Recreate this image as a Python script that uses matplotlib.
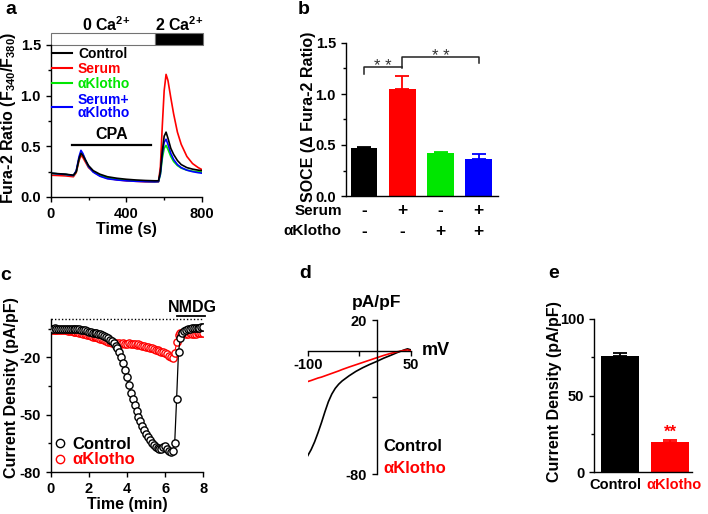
import matplotlib
matplotlib.use('Agg')
import matplotlib.pyplot as plt
from matplotlib.patches import Rectangle
from matplotlib.lines import Line2D

plt.rcParams['font.family'] = ['Liberation Sans', 'DejaVu Sans']
plt.rcParams['font.weight'] = 'bold'
plt.rcParams['axes.labelweight'] = 'bold'
plt.rcParams['axes.unicode_minus'] = False
plt.rcParams['mathtext.fontset'] = 'custom'
plt.rcParams['mathtext.rm'] = 'Liberation Sans:bold'
plt.rcParams['mathtext.it'] = 'Liberation Sans:bold'
plt.rcParams['mathtext.bf'] = 'Liberation Sans:bold'
plt.rcParams['mathtext.default'] = 'rm'
plt.rcParams['axes.linewidth'] = 1.0
for ax_name in ['xtick', 'ytick']:
    plt.rcParams[ax_name + '.major.width'] = 1.0
    plt.rcParams[ax_name + '.minor.width'] = 1.0
    plt.rcParams[ax_name + '.major.size'] = 3.5
    plt.rcParams[ax_name + '.minor.size'] = 2.5
    plt.rcParams[ax_name + '.labelsize'] = 10.5

# ---- a: Fura-2 ratio traces
t_fura = [0, 40, 80, 120, 135, 150, 160, 170, 185, 200, 225, 260, 300, 350, 400, 450,
          500, 550, 570, 580, 590, 600, 610, 620, 635, 650, 670, 690, 720, 750, 780, 800]
fura_control = [0.235, 0.230, 0.225, 0.215, 0.25, 0.38, 0.43, 0.41, 0.36, 0.31, 0.26, 0.225,
                0.20, 0.185, 0.175, 0.168, 0.163, 0.160, 0.160, 0.25, 0.45, 0.60, 0.64, 0.58,
                0.48, 0.42, 0.36, 0.32, 0.29, 0.275, 0.265, 0.26]
fura_serum = [0.215, 0.212, 0.208, 0.200, 0.24, 0.36, 0.41, 0.39, 0.34, 0.29, 0.25, 0.21,
              0.185, 0.17, 0.16, 0.155, 0.150, 0.148, 0.150, 0.30, 0.70, 1.05, 1.21, 1.15,
              0.98, 0.82, 0.64, 0.52, 0.40, 0.33, 0.29, 0.27]
fura_klotho = [0.235, 0.228, 0.222, 0.212, 0.25, 0.38, 0.44, 0.42, 0.36, 0.30, 0.25, 0.215,
               0.19, 0.175, 0.165, 0.16, 0.155, 0.152, 0.153, 0.22, 0.38, 0.48, 0.51, 0.47,
               0.40, 0.35, 0.31, 0.285, 0.265, 0.255, 0.25, 0.245]
fura_both = [0.235, 0.228, 0.222, 0.212, 0.26, 0.40, 0.46, 0.43, 0.36, 0.30, 0.245, 0.205,
             0.18, 0.168, 0.16, 0.155, 0.152, 0.150, 0.152, 0.23, 0.42, 0.54, 0.57, 0.52,
             0.43, 0.37, 0.32, 0.29, 0.265, 0.25, 0.24, 0.235]
fura_names = ['Control', 'Serum', 'αKlotho', 'Serum+\nαKlotho']
group_colors = ['black', 'red', '#00e600', 'blue']
ca_start = [0, 550]
ca_end = [550, 805]
ca_labels = ['0 Ca$^{2{+}}$', '2 Ca$^{2{+}}$']
cpa_start, cpa_end = 110, 530

# ---- b: SOCE bars
soce_mean = [0.47, 1.05, 0.42, 0.36]
soce_err = [0.01, 0.125, 0.01, 0.05]
serum_row = ['-', '+', '-', '+']
klotho_row = ['-', '-', '+', '+']

# ---- c: current density time course (every 0.1 min)
t_cur = [i / 10 for i in range(81)]
cur_control = [-5.0, -5.1, -4.9, -5.0, -5.2, -5.0, -5.1, -5.0, -5.2, -5.1,
               -5.0, -5.2, -5.1, -5.3, -5.2, -5.4, -5.6, -5.8, -6.0, -6.3,
               -6.6, -6.9, -7.1, -7.3, -7.5, -7.8, -8.1, -8.5, -9.0, -9.5,
               -10.0, -10.8, -11.7, -12.8, -14.0, -15.4, -17.5, -20.0, -23.0, -26.5,
               -30.5, -34.5, -38.5, -42.0, -45.0, -48.0, -51.0, -53.5, -56.0, -58.0,
               -60.0, -61.8, -63.3, -64.6, -65.8, -66.7, -67.5, -68.0, -68.2, -67.0,
               -66.5, -67.8, -69.0, -69.5, -69.0, -65.0, -42.0, -17.0, -10.0, -7.5,
               -6.2, -5.6, -5.3, -5.0, -4.8, -4.7, -4.6, -4.5, -4.5, -4.4, -4.4]
cur_klotho = [-5.5, -5.6, -5.5, -5.7, -5.6, -5.8, -5.7, -5.9, -6.0, -6.2,
              -6.3, -6.5, -6.6, -6.8, -7.0, -7.3, -7.5, -7.8, -8.0, -8.3,
              -8.6, -8.9, -9.2, -9.4, -9.6, -9.9, -10.2, -10.6, -11.0, -11.4,
              -11.8, -12.1, -12.4, -12.6, -12.8, -12.9, -12.8, -13.0, -12.7, -12.9,
              -13.0, -12.8, -13.1, -13.0, -13.2, -13.4, -13.3, -13.6, -13.9, -14.2,
              -14.5, -14.8, -15.0, -15.3, -15.6, -16.0, -16.3, -16.6, -17.0, -17.4,
              -17.8, -18.4, -19.2, -20.0, -20.3, -18.0, -12.0, -8.5, -7.5, -7.2,
              -7.3, -7.6, -7.8, -7.5, -7.7, -7.9, -7.6, -7.4, -7.5, -7.3, -7.2]
nmdg_start, nmdg_end = 6.6, 8.1

# ---- d: I-V curves
iv_mv = [-100, -95, -90, -85, -80, -75, -70, -65, -60, -55, -50, -40, -30, -20, -10,
         0, 10, 20, 30, 40, 45, 50]
iv_control = [-68, -64, -59, -53, -46.5, -39.5, -33, -28, -24.3, -21.6, -19.5, -16.2,
              -13.3, -10.9, -8.8, -6.9, -4.8, -3.0, -1.1, 0.6, 1.3, 0.6]
iv_klotho = [-19.9, -19.2, -18.4, -17.6, -17.0, -16.2, -15.4, -14.6, -13.8, -13.0, -12.1,
             -10.5, -9.0, -7.5, -6.0, -4.5, -3.0, -1.7, -0.6, 0.3, 0.6, 0.0]

# ---- e: current density bars
cd_names = ['Control', 'αKlotho']
cd_mean = [76, 19.5]
cd_err = [1.5, 1.5]
cd_colors = ['black', 'red']

W, H = 708, 514
fig = plt.figure(figsize=(W / 100, H / 100), dpi=100)


def rect(left, top, right, bottom):
    return [left / W, 1 - bottom / H, (right - left) / W, (bottom - top) / H]


def clean(ax):
    ax.spines['top'].set_visible(False)
    ax.spines['right'].set_visible(False)


# ================= a
axa = fig.add_axes(rect(50.7, 45, 202.0, 197))
clean(axa)
for y, c in zip([fura_serum, fura_klotho, fura_both, fura_control],
                [group_colors[1], group_colors[2], group_colors[3], group_colors[0]]):
    axa.plot(t_fura, y, color=c, lw=1.2)
handles = [Line2D([], [], color=c, lw=1.5) for c in group_colors]
leg = axa.legend(handles, fura_names, loc='upper left', bbox_to_anchor=(0.01, 0.99),
                 frameon=False, fontsize=10, handlelength=1.4, handletextpad=0.45,
                 labelspacing=0.1, borderaxespad=0, borderpad=0)
for txt, c in zip(leg.get_texts(), group_colors):
    txt.set_color(c)
    txt.set_linespacing(0.95)
for s, e, lab in zip(ca_start, ca_end, ca_labels):
    fc = 'white' if lab.startswith('0') else 'black'
    axa.add_patch(Rectangle((s, 1.5), e - s, 0.118, facecolor=fc, edgecolor='0.45',
                            lw=0.8, clip_on=False))
    axa.text((s + e) / 2 + (20 if fc == 'white' else 0), 1.635, lab, ha='center',
             va='baseline', fontsize=11.5)
axa.plot([cpa_start, cpa_end], [0.51, 0.51], color='black', lw=1.6)
axa.text((cpa_start + cpa_end) / 2, 0.545, 'CPA', ha='center', va='bottom', fontsize=11.5)
axa.set_xlim(0, 800)
axa.set_ylim(0, 1.5)
axa.set_xticks([0, 400, 800])
axa.set_xticks([200, 600], minor=True)
axa.set_yticks([0, 0.5, 1.0, 1.5])
axa.set_yticks([0.25, 0.75, 1.25], minor=True)
axa.set_yticklabels(['0.0', '0.5', '1.0', '1.5'])
axa.set_xlabel('Time (s)', fontsize=11.5, labelpad=1)
fig.text(8.5 / W, 1 - 118 / H, 'Fura-2 Ratio (F$_{340}$/F$_{380}$)', rotation=90,
         ha='center', va='center', fontsize=11.5)

# ================= b
axb = fig.add_axes(rect(345.7, 43, 498, 196))
clean(axb)
xb = list(range(len(soce_mean)))
axb.bar(xb, soce_mean, width=0.7, color=group_colors, zorder=2)
for x, m, e, c in zip(xb, soce_mean, soce_err, group_colors):
    axb.errorbar([x], [m], yerr=[[0], [e]], fmt='none', ecolor=c, capsize=5,
                 elinewidth=1.3, capthick=1.3, zorder=1)
axb.set_xlim(-0.48, 3.5)
axb.set_ylim(0, 1.5)
axb.set_xticks([])
axb.set_yticks([0, 0.5, 1.0, 1.5])
axb.set_yticks([0.25, 0.75, 1.25], minor=True)
axb.set_yticklabels(['0.0', '0.5', '1.0', '1.5'])
tr = axb.get_xaxis_transform()
for x, s, k in zip(xb, serum_row, klotho_row):
    axb.text(x, -0.098, s, transform=tr, ha='center', va='center', fontsize=12.5)
    axb.text(x, -0.229, k, transform=tr, ha='center', va='center', fontsize=12.5)
axb.text(-0.58, -0.098, 'Serum', transform=tr, ha='right', va='center', fontsize=11)
axb.text(-0.58, -0.229, 'αKlotho', transform=tr, ha='right', va='center', fontsize=11)
# significance brackets
axb.plot([0, 0, 1], [1.20, 1.265, 1.265], color='#222222', lw=1.1, clip_on=False)
axb.plot([1, 1, 3, 3], [1.255, 1.36, 1.36, 1.30], color='#222222', lw=1.1, clip_on=False)
axb.text(0.5, 1.225, '* *', ha='center', va='baseline', fontsize=12, color='#333333',
         fontweight='normal')
axb.text(2.0, 1.325, '* *', ha='center', va='baseline', fontsize=12, color='#333333',
         fontweight='normal')
fig.text(309 / W, 1 - 117 / H, 'SOCE (Δ Fura-2 Ratio)', rotation=90, ha='center',
         va='center', fontsize=11.5)

# ================= c
axc = fig.add_axes(rect(50.7, 319, 203.3, 472))
clean(axc)
axc.plot(t_cur, cur_klotho, color='red', lw=0.8, marker='o', ms=5.2, mfc='white',
         mec='red', mew=1.0, zorder=2)
axc.plot(t_cur, cur_control, color='black', lw=0.9, marker='o', ms=5.2, mfc='white',
         mec='black', mew=1.0, zorder=3)
axc.axhline(0, color='black', lw=1.0, ls=(0, (1, 1.5)), clip_on=False)
axc.plot([nmdg_start, nmdg_end], [1.6, 1.6], color='black', lw=1.3, clip_on=False)
axc.text((nmdg_start + nmdg_end) / 2 + 0.1, 3.6, 'NMDG', ha='center', va='baseline',
         fontsize=11.5)
axc.set_xlim(0, 8)
axc.set_ylim(-80, 0)
axc.set_xticks([0, 2, 4, 6, 8])
axc.set_yticks([-80, -50, -20])
axc.set_yticks([-65, -35, -5], minor=True)
axc.set_xlabel('Time (min)', fontsize=11.5, labelpad=1)
hc = [Line2D([], [], ls='none', marker='o', ms=6, mfc='white', mec=c, mew=1.0)
      for c in ['black', 'red']]
legc = axc.legend(hc, ['Control', 'αKlotho'], loc='lower left', bbox_to_anchor=(0.02, 0.03),
                  frameon=False, fontsize=12, handlelength=0.8, handletextpad=0.3,
                  labelspacing=0.05, borderaxespad=0, borderpad=0)
for txt, c in zip(legc.get_texts(), ['black', 'red']):
    txt.set_color(c)
fig.text(11.5 / W, 1 - 388 / H, 'Current Density (pA/pF)', rotation=90, ha='center',
         va='center', fontsize=11.5)

# ================= d
axd = fig.add_axes(rect(307.7, 320, 411, 474.3))
clean(axd)
axd.spines['left'].set_position(('data', 0))
axd.spines['bottom'].set_position(('data', 0))
axd.plot(iv_mv, iv_control, color='black', lw=1.2)
axd.plot(iv_mv, iv_klotho, color='red', lw=1.2)
axd.set_xlim(-100, 50)
axd.set_ylim(-80, 20)
axd.set_xticks([-100, -25, 50])
axd.set_xticklabels(['-100', '', '50'])
axd.set_yticks([-80, -30, 20])
axd.set_yticklabels(['-80', '', '20'])
axd.tick_params(axis='x', pad=2)
axd.text(66, 0, 'mV', ha='left', va='center', fontsize=13)
axd.text(0, 31.5, 'pA/pF', ha='center', va='center', fontsize=12.5)
axd.text(10.5, -62, 'Control', ha='left', va='center', fontsize=12, color='black')
axd.text(10.5, -76, 'αKlotho', ha='left', va='center', fontsize=12, color='red')

# ================= e
axe = fig.add_axes(rect(594, 319, 692, 472))
clean(axe)
xe = list(range(len(cd_mean)))
axe.bar(xe, cd_mean, width=0.76, color=cd_colors, zorder=2)
for x, m, e, c in zip(xe, cd_mean, cd_err, cd_colors):
    axe.errorbar([x], [m], yerr=[[0], [e]], fmt='none', ecolor=c, capsize=5,
                 elinewidth=1.3, capthick=1.3, zorder=1)
axe.text(1, 23.0, '**', ha='center', va='baseline', fontsize=12, color='red')
axe.set_xlim(-0.51, 1.43)
axe.set_ylim(0, 100)
axe.set_xticks([-0.08, 1.07])
axe.set_xticklabels(cd_names, fontsize=10.5)
for lab, c in zip(axe.get_xticklabels(), cd_colors):
    lab.set_color(c)
axe.tick_params(axis='x', length=0, pad=4)
axe.set_yticks([0, 50, 100])
axe.set_yticks([25, 75], minor=True)
fig.text(554 / W, 1 - 392 / H, 'Current Density (pA/pF)', rotation=90, ha='center',
         va='center', fontsize=11.5)

# panel letters
for lab, px, py in [('a', 11, 10), ('b', 304, 9), ('c', 6, 275), ('d', 305, 274), ('e', 554, 274)]:
    fig.text(px / W, 1 - py / H, lab, ha='center', va='center', fontsize=14)

fig.savefig('out.png', dpi=100)
